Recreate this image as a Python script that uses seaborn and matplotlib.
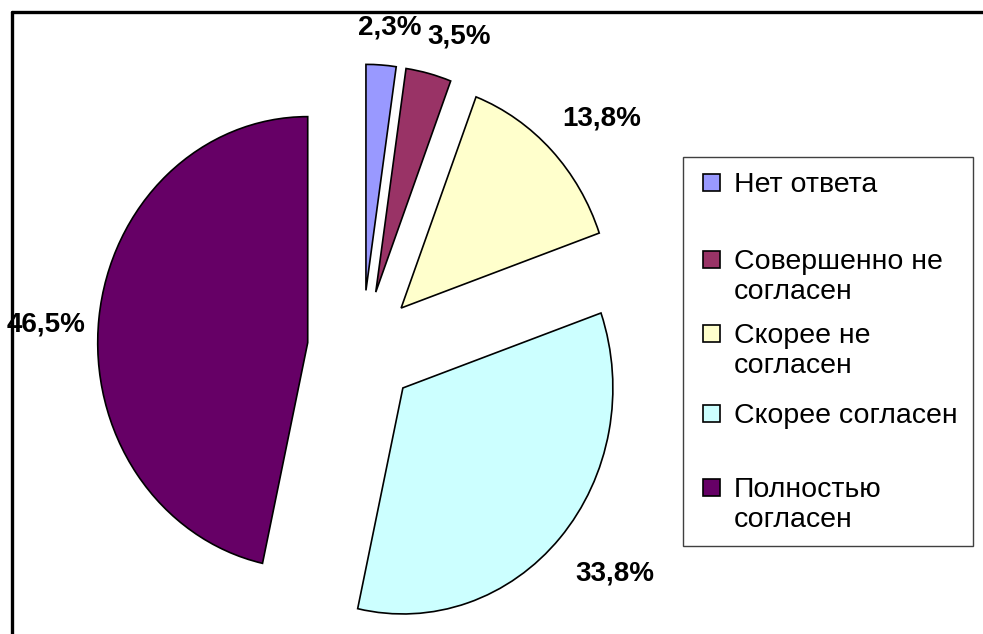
import matplotlib
matplotlib.use("Agg")
import matplotlib.pyplot as plt
from matplotlib.patches import Rectangle
from matplotlib.lines import Line2D
import seaborn as sns

sns.set_style("white")
plt.rcParams['font.family'] = ['Liberation Sans', 'DejaVu Sans']

# ---- data ----
categories = ["Нет ответа", "Совершенно не\nсогласен", "Скорее не\nсогласен",
              "Скорее согласен", "Полностью\nсогласен"]
values = [2.3, 3.5, 13.8, 33.8, 46.5]
colors = ["#9999FF", "#993366", "#FFFFCC", "#CCFFFF", "#660066"]
pct_labels = [f"{v:.1f}%".replace(".", ",") for v in values]

W, H = 983, 634
fig = plt.figure(figsize=(W / 100, H / 100), dpi=100)
ax = fig.add_axes([0, 0, 1, 1])

def fx(x):
    return x / W

def fy(y):
    return 1 - y / H

wedges, texts, autotexts = ax.pie(
    values, explode=[0.26] * len(values), startangle=90, counterclock=False,
    colors=colors, autopct="%1.1f%%", pctdistance=1.22,
    wedgeprops=dict(edgecolor="black", linewidth=1.2),
    textprops=dict(fontsize=20, fontweight="bold", color="black"))
for t, s in zip(autotexts, pct_labels):
    t.set_text(s)
    t.set_zorder(5)

# elliptical pie like the original (taller than wide)
cx, cy, rx, ry = 362, 349, 210, 226
ax.set_aspect("auto")
ax.set_xlim(-cx / rx, (W - cx) / rx)
ax.set_ylim(-(H - cy) / ry, cy / ry)
ax.axis("off")

# nudge label positions slightly to match original placement
nudges = [(0.023, -0.055), (0.09, -0.049), (0.08, -0.013), (0.098, -0.014), (-0.033, -0.05)]
for t, (dx, dy) in zip(autotexts, nudges):
    x, y = t.get_position()
    t.set_position((x + dx, y + dy))

# outer frame (partially visible, as in the original)
fig.add_artist(Line2D([fx(12), fx(W + 5)], [fy(12), fy(12)], color="black", lw=2.4,
                      transform=fig.transFigure, zorder=1))
fig.add_artist(Line2D([fx(12), fx(12)], [fy(12), fy(H + 5)], color="black", lw=2.4,
                      transform=fig.transFigure, zorder=1))

# legend (manually laid out like Excel)
fig.add_artist(Rectangle((fx(683), fy(546)), (973 - 683) / W, (546 - 157) / H,
                         transform=fig.transFigure, facecolor="white",
                         edgecolor="#404040", lw=1.0))
first_baselines = [192, 269, 343, 423, 497]
line_step = 30
for lab, col, b in zip(categories, colors, first_baselines):
    fig.add_artist(Rectangle((fx(703), fy(b - 1)), 17 / W, 17 / H,
                             transform=fig.transFigure, facecolor=col,
                             edgecolor="black", lw=1.2))
    for i, line in enumerate(lab.split("\n")):
        fig.text(fx(734), fy(b + i * line_step), line, fontsize=20.5,
                 va="baseline", ha="left", color="black")

fig.savefig("out.png", dpi=100)
